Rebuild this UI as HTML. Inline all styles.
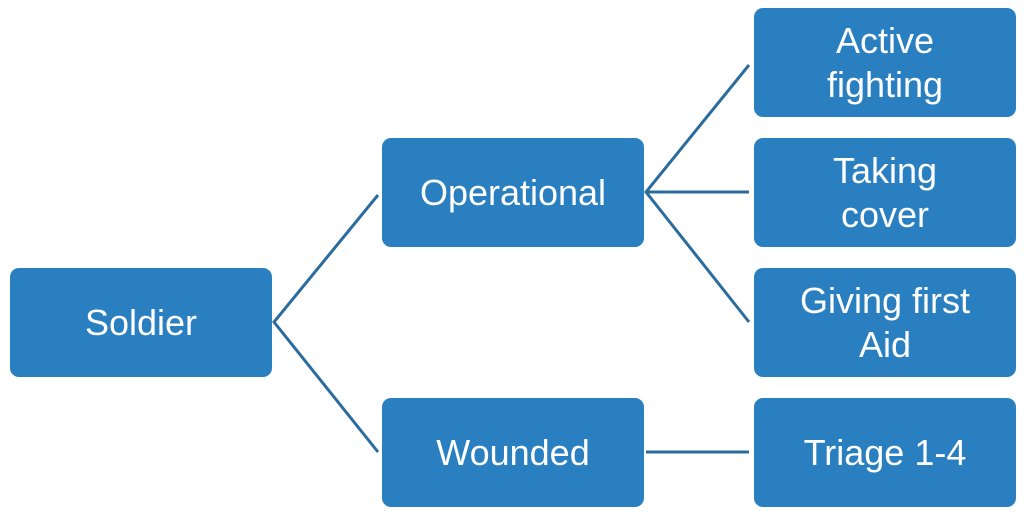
<!DOCTYPE html>
<html><head><style>
body{margin:0;width:1024px;height:516px;background:#fff;position:relative;overflow:hidden;font-family:"Liberation Sans",sans-serif}
.b{position:absolute;width:262px;height:109px;background:#2a7fc1;border-radius:9px;color:#fff;font-size:36px;line-height:44px;display:flex;align-items:center;justify-content:center;text-align:center}
svg{position:absolute;left:0;top:0}
</style></head><body>
<svg width="1024" height="516"><g stroke="#2b6c9e" stroke-width="3" fill="none">
<path d="M378,195 L274,322 L378,452"/>
<path d="M749,65 L646,192 L749,322"/>
<path d="M646,192 L749,192"/>
<path d="M646,452 L749,452"/>
</g></svg>
<div class="b" style="left:10px;top:268px">Soldier</div>
<div class="b" style="left:382px;top:138px">Operational</div>
<div class="b" style="left:382px;top:398px">Wounded</div>
<div class="b" style="left:754px;top:8px">Active<br>fighting</div>
<div class="b" style="left:754px;top:138px">Taking<br>cover</div>
<div class="b" style="left:754px;top:268px">Giving first<br>Aid</div>
<div class="b" style="left:754px;top:398px">Triage 1-4</div>
</body></html>
